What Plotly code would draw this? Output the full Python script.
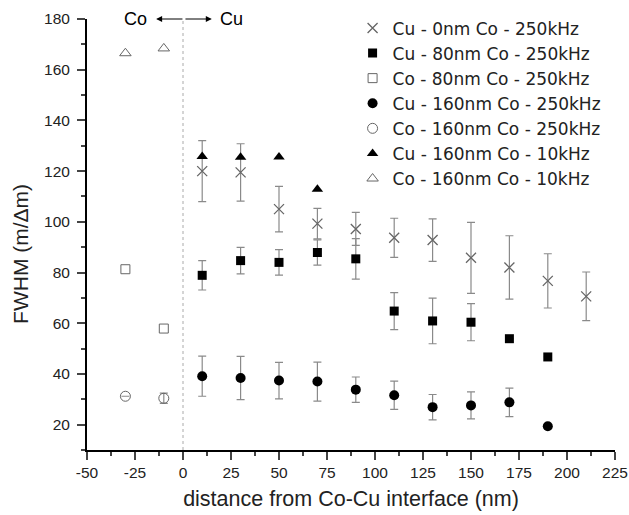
import plotly.graph_objects as go

# ---- data ----
cu0_x = [10, 30, 50, 70, 90, 110, 130, 150, 170, 190, 210]
cu0_y = [120, 119.5, 105, 99.3, 97.2, 93.7, 92.8, 85.8, 82, 76.7, 70.6]
cu0_err = [12, 11.3, 9, 6, 6.5, 7.7, 8.4, 14, 12.5, 10.7, 9.6]

cu80_x = [10, 30, 50, 70, 90, 110, 130, 150, 170, 190]
cu80_y = [78.9, 84.7, 84, 87.9, 85.4, 64.8, 60.9, 60.4, 53.9, 46.7]
cu80_err = [5.8, 5.2, 5, 5, 8, 7.3, 9, 7.3, None, None]

co80_x = [-30, -10]
co80_y = [81.3, 57.9]

cu160_x = [10, 30, 50, 70, 90, 110, 130, 150, 170, 190]
cu160_y = [39.1, 38.4, 37.4, 37, 33.8, 31.6, 26.9, 27.6, 28.8, 19.4]
cu160_err = [7.9, 8.5, 7.2, 7.7, 5, 5.6, 5, 5.3, 5.6, None]

co160_x = [-30, -10]
co160_y = [31.2, 30.4]
co160_err = [None, 2]

cu160k_x = [10, 30, 50, 70]
cu160k_y = [125.8, 125.5, 125.6, 112.8]

co160k_x = [-30, -10]
co160k_y = [166.5, 168.4]

names = ["Cu - 0nm Co - 250kHz", "Cu - 80nm Co - 250kHz", "Co - 80nm Co - 250kHz",
         "Cu - 160nm Co - 250kHz", "Co - 160nm Co - 250kHz",
         "Cu - 160nm Co - 10kHz", "Co - 160nm Co - 10kHz"]

x_ticks = [-50, -25, 0, 25, 50, 75, 100, 125, 150, 175, 200, 225]
x_ticklabels = ["-50", "-25", "0", "25", "50", "75", "100", "125", "150", "175", "200", "225"]
y_ticks = [20, 40, 60, 80, 100, 120, 140, 160, 180]

FONT = "Arial, Liberation Sans, sans-serif"
LEGFONT = "DejaVu Sans, Arial, sans-serif"
ERRC = "#8a8a8a"
GRAY = "#666666"
TXT = "#222222"


def err(arr):
    return dict(type="data", array=arr, visible=True, color=ERRC, thickness=1.2, width=4)


fig = go.Figure()
fig.add_trace(go.Scatter(x=cu0_x, y=cu0_y, mode="markers", name=names[0],
                         marker=dict(symbol="x-thin-open", size=10, color=GRAY,
                                     line=dict(color=GRAY, width=1.3)),
                         error_y=err(cu0_err)))
fig.add_trace(go.Scatter(x=cu80_x, y=cu80_y, mode="markers", name=names[1],
                         marker=dict(symbol="square", size=9, color="black"),
                         error_y=err(cu80_err)))
fig.add_trace(go.Scatter(x=co80_x, y=co80_y, mode="markers", name=names[2],
                         marker=dict(symbol="square-open", size=9, color=GRAY,
                                     line=dict(color=GRAY, width=1))))
fig.add_trace(go.Scatter(x=cu160_x, y=cu160_y, mode="markers", name=names[3],
                         marker=dict(symbol="circle", size=10, color="black"),
                         error_y=err(cu160_err)))
fig.add_trace(go.Scatter(x=co160_x, y=co160_y, mode="markers", name=names[4],
                         marker=dict(symbol="circle-open", size=10, color=GRAY,
                                     line=dict(color=GRAY, width=1)),
                         error_y=err(co160_err)))
fig.add_trace(go.Scatter(x=cu160k_x, y=cu160k_y, mode="markers", name=names[5],
                         marker=dict(symbol="triangle-up", size=10, color="black")))
fig.add_trace(go.Scatter(x=co160k_x, y=co160k_y, mode="markers", name=names[6],
                         marker=dict(symbol="triangle-up-open", size=10, color=GRAY,
                                     line=dict(color=GRAY, width=1))))

# dotted interface line
fig.add_shape(type="line", xref="x", yref="y", x0=0, x1=0, y0=10, y1=180,
              line=dict(color="#aaaaaa", width=1, dash="dot"), layer="below")

# Co <-> Cu annotation
fig.add_annotation(x=-14, y=180, ax=0.5, ay=180, xref="x", yref="y", axref="x", ayref="y",
                   text="", showarrow=True, arrowhead=2, arrowsize=1.2, arrowwidth=1, arrowcolor="black")
fig.add_annotation(x=15, y=180, ax=0.5, ay=180, xref="x", yref="y", axref="x", ayref="y",
                   text="", showarrow=True, arrowhead=2, arrowsize=1.2, arrowwidth=1, arrowcolor="black")
fig.add_annotation(x=-25, y=180, xref="x", yref="y", text="Co", showarrow=False,
                   font=dict(family=FONT, size=18, color="black"))
fig.add_annotation(x=25.5, y=180, xref="x", yref="y", text="Cu", showarrow=False,
                   font=dict(family=FONT, size=18, color="black"))

# y-axis title (placed as in the reference, slightly below centre)
fig.add_annotation(x=-0.125, y=0.455, xref="paper", yref="paper", text="FWHM (m/\u0394m)",
                   textangle=-90, showarrow=False, xanchor="center", yanchor="middle",
                   font=dict(family=FONT, size=21, color=TXT))

fig.update_layout(
    width=629, height=515,
    margin=dict(l=87, r=14, t=19, b=65, autoexpand=False),
    paper_bgcolor="white", plot_bgcolor="white",
    font=dict(family=FONT, size=15, color="black"),
    showlegend=True,
    legend=dict(x=0.503, y=1.02, xanchor="left", yanchor="top",
                font=dict(family=LEGFONT, size=17, color=TXT),
                bgcolor="rgba(0,0,0,0)", tracegroupgap=0, itemwidth=30),
    xaxis=dict(range=[-50, 225], tickvals=x_ticks, ticktext=x_ticklabels,
               ticks="outside", ticklen=8, tickwidth=1.5,
               showline=True, linecolor="black", linewidth=2, showgrid=False, zeroline=False,
               automargin=False, ticklabelstandoff=-1,
               minor=dict(ticks="outside", ticklen=4, tickwidth=1.5, dtick=12.5, tick0=-50),
               tickfont=dict(family=FONT, size=15.5, color=TXT),
               title=dict(text="distance from Co-Cu interface (nm)", standoff=11,
                          font=dict(family=FONT, size=21.5, color=TXT))),
    yaxis=dict(range=[10, 180], tickvals=y_ticks, ticks="outside", ticklen=8, tickwidth=1.5,
               showline=True, linecolor="black", linewidth=2, showgrid=False, zeroline=False,
               automargin=False, ticklabelstandoff=4,
               minor=dict(ticks="outside", ticklen=4, tickwidth=1.5, dtick=10, tick0=0),
               tickfont=dict(family=FONT, size=15.5, color=TXT)),
)

fig.write_html("out.html", config={"displayModeBar": False},
               post_script="document.body.style.margin='0';")
